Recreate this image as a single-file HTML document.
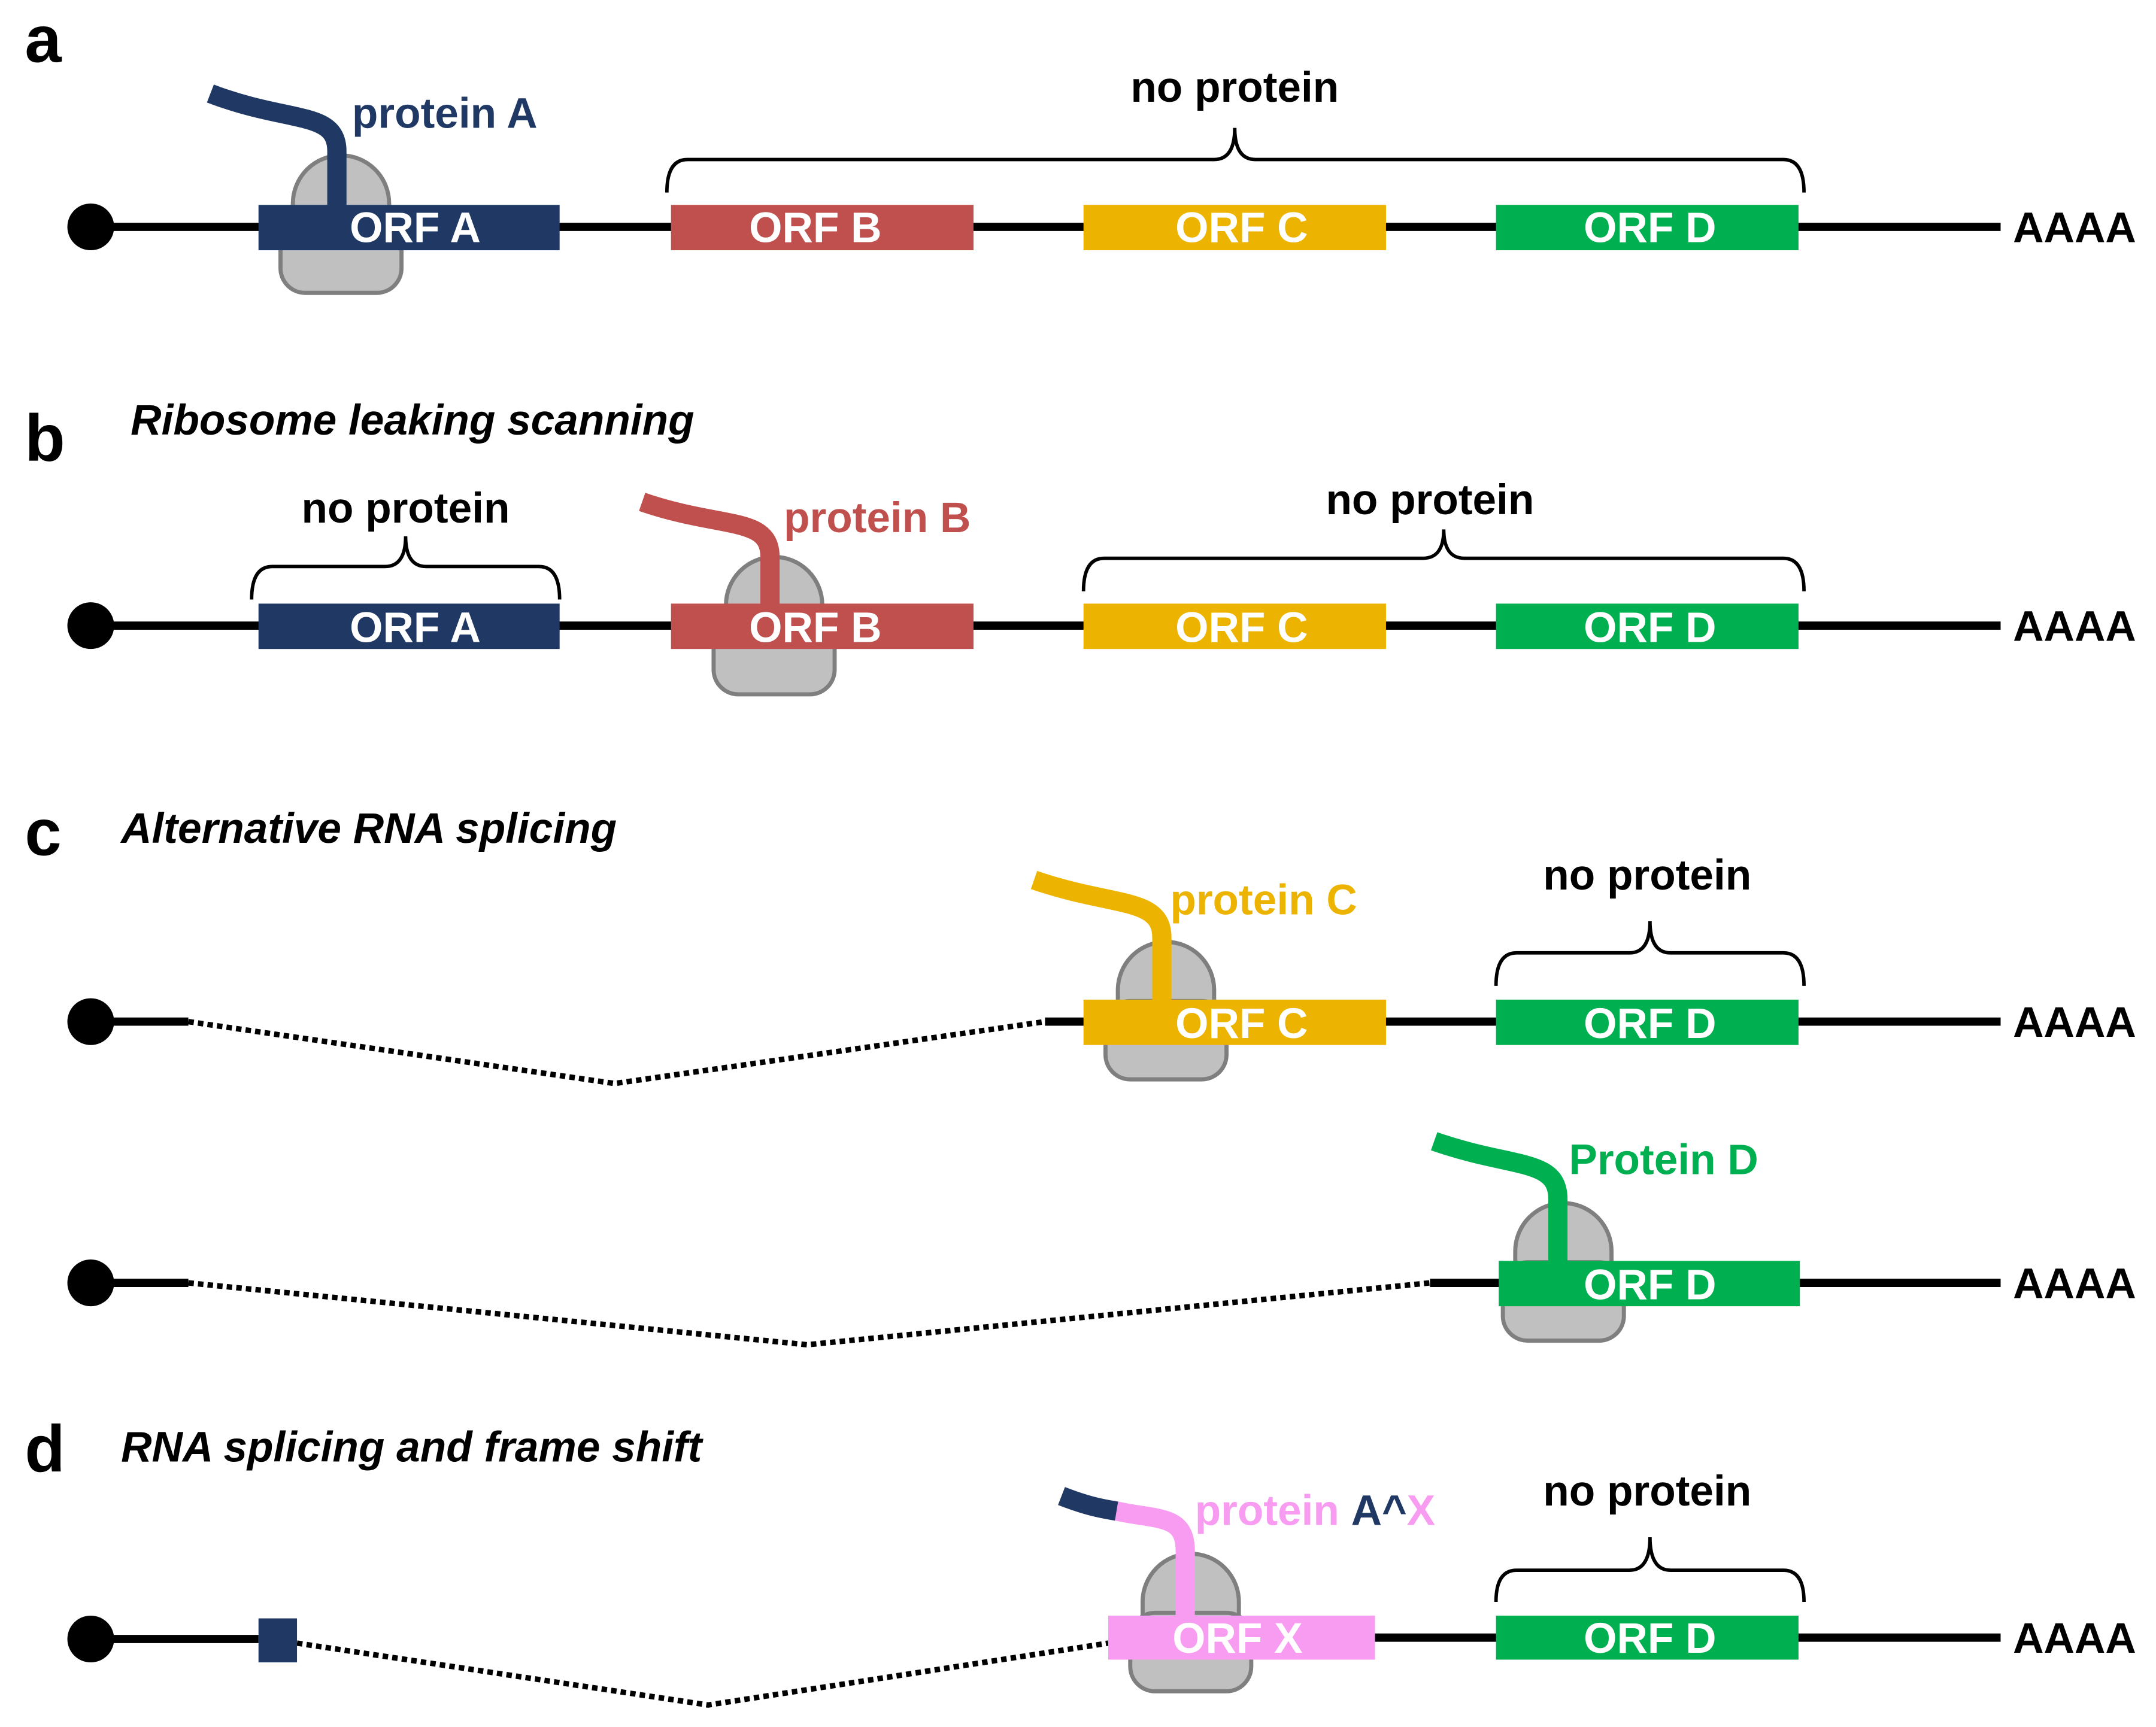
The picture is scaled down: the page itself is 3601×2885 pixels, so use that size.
<!DOCTYPE html>
<html><head><meta charset="utf-8"><style>
html,body{margin:0;padding:0;background:#fff;}
svg{display:block;}
text{font-family:"Liberation Sans",Arial,sans-serif;font-weight:bold;}
</style></head><body>
<svg width="3601" height="2885" viewBox="0 0 1568 1256" preserveAspectRatio="none" xmlns="http://www.w3.org/2000/svg">
<defs>
<g id="ribo">
<path d="M-35,30 L-35,17 A35,35 0 0 1 35,17 L35,30 Z" fill="#c0c0c0" stroke="#7f7f7f" stroke-width="3"/>
<rect x="-44" y="25" width="88" height="57" rx="18" fill="#c0c0c0" stroke="#7f7f7f" stroke-width="3"/>
</g>
</defs>
<g font-size="31" fill="#fff">
<text x="18" y="45" font-size="48" fill="#000">a</text>
<text x="18" y="335" font-size="48" fill="#000">b</text>
<text x="18" y="622" font-size="48" fill="#000">c</text>
<text x="18" y="1070" font-size="48" fill="#000">d</text>
<text x="95" y="316" font-style="italic" fill="#000">Ribosome leaking scanning</text>
<text x="88" y="613" font-style="italic" fill="#000">Alternative RNA splicing</text>
<text x="88" y="1063" font-style="italic" fill="#000">RNA splicing and frame shift</text>

<!-- ROW A -->
<line x1="66" y1="165" x2="1455" y2="165" stroke="#000" stroke-width="6"/>
<circle cx="66" cy="165" r="17" fill="#000"/>
<use href="#ribo" x="248" y="131"/>
<path d="M153,68 C210,90 245,80 245,110 L245,152" fill="none" stroke="#1f3864" stroke-width="14"/>
<rect x="188" y="149" width="219" height="33" fill="#1f3864"/><text x="302" y="176" text-anchor="middle">ORF A</text>
<rect x="488" y="149" width="220" height="33" fill="#c0504d"/><text x="593" y="176" text-anchor="middle">ORF B</text>
<rect x="788" y="149" width="220" height="33" fill="#ecb400"/><text x="903" y="176" text-anchor="middle">ORF C</text>
<rect x="1088" y="149" width="220" height="33" fill="#00b050"/><text x="1200" y="176" text-anchor="middle">ORF D</text>
<text x="1464" y="176" fill="#000">AAAA</text>
<text x="256" y="93" fill="#1f3864">protein A</text>
<path d="M485,140 Q485,116 500,116 L883,116 Q898,116 898,93 Q898,116 913,116 L1297,116 Q1312,116 1312,140" fill="none" stroke="#000" stroke-width="2.5"/>
<text x="898" y="74" text-anchor="middle" fill="#000">no protein</text>

<!-- ROW B -->
<line x1="66" y1="455" x2="1455" y2="455" stroke="#000" stroke-width="6"/>
<circle cx="66" cy="455" r="17" fill="#000"/>
<use href="#ribo" x="563" y="423"/>
<path d="M467,365 C525,385 560,375 560,405 L560,442" fill="none" stroke="#c0504d" stroke-width="14"/>
<rect x="188" y="439" width="219" height="33" fill="#1f3864"/><text x="302" y="467" text-anchor="middle">ORF A</text>
<rect x="488" y="439" width="220" height="33" fill="#c0504d"/><text x="593" y="467" text-anchor="middle">ORF B</text>
<rect x="788" y="439" width="220" height="33" fill="#ecb400"/><text x="903" y="467" text-anchor="middle">ORF C</text>
<rect x="1088" y="439" width="220" height="33" fill="#00b050"/><text x="1200" y="467" text-anchor="middle">ORF D</text>
<text x="1464" y="466" fill="#000">AAAA</text>
<text x="570" y="387" fill="#c0504d">protein B</text>
<path d="M183,436 Q183,412 198,412 L280,412 Q295,412 295,390 Q295,412 310,412 L392,412 Q407,412 407,436" fill="none" stroke="#000" stroke-width="2.5"/>
<text x="295" y="380" text-anchor="middle" fill="#000">no protein</text>
<path d="M788,430 Q788,406 803,406 L1035,406 Q1050,406 1050,385 Q1050,406 1065,406 L1297,406 Q1312,406 1312,430" fill="none" stroke="#000" stroke-width="2.5"/>
<text x="1040" y="374" text-anchor="middle" fill="#000">no protein</text>

<!-- ROW C1 -->
<line x1="66" y1="743" x2="137" y2="743" stroke="#000" stroke-width="6"/>
<line x1="760" y1="743" x2="1455" y2="743" stroke="#000" stroke-width="6"/>
<polyline points="137,743 447,788 760,743" fill="none" stroke="#000" stroke-width="4" stroke-dasharray="4,3"/>
<circle cx="66" cy="743" r="17" fill="#000"/>
<use href="#ribo" x="848" y="703"/>
<path d="M752,640 C810,660 845,652 845,682 L845,730" fill="none" stroke="#ecb400" stroke-width="14"/>
<rect x="788" y="727" width="220" height="33" fill="#ecb400"/><text x="903" y="755" text-anchor="middle">ORF C</text>
<rect x="1088" y="727" width="220" height="33" fill="#00b050"/><text x="1200" y="755" text-anchor="middle">ORF D</text>
<text x="1464" y="754" fill="#000">AAAA</text>
<text x="851" y="665" fill="#ecb400">protein C</text>
<path d="M1088,717 Q1088,693 1103,693 L1185,693 Q1200,693 1200,670 Q1200,693 1215,693 L1297,693 Q1312,693 1312,717" fill="none" stroke="#000" stroke-width="2.5"/>
<text x="1198" y="647" text-anchor="middle" fill="#000">no protein</text>

<!-- ROW C2 -->
<line x1="66" y1="933" x2="137" y2="933" stroke="#000" stroke-width="6"/>
<line x1="1040" y1="933" x2="1455" y2="933" stroke="#000" stroke-width="6"/>
<polyline points="137,933 587,978 1040,933" fill="none" stroke="#000" stroke-width="4" stroke-dasharray="4,3"/>
<circle cx="66" cy="933" r="17" fill="#000"/>
<use href="#ribo" x="1137" y="893"/>
<path d="M1043,830 C1100,850 1133,842 1133,872 L1133,920" fill="none" stroke="#00b050" stroke-width="14"/>
<rect x="1090" y="917" width="219" height="33" fill="#00b050"/><text x="1200" y="945" text-anchor="middle">ORF D</text>
<text x="1464" y="944" fill="#000">AAAA</text>
<text x="1141" y="854" fill="#00b050">Protein D</text>

<!-- ROW D -->
<line x1="66" y1="1192" x2="188" y2="1192" stroke="#000" stroke-width="6"/>
<line x1="1000" y1="1191" x2="1455" y2="1191" stroke="#000" stroke-width="6"/>
<polyline points="216,1195 515,1240 806,1195" fill="none" stroke="#000" stroke-width="4" stroke-dasharray="4,3"/>
<circle cx="66" cy="1192" r="17" fill="#000"/>
<rect x="188" y="1177" width="28" height="32" fill="#1f3864"/>
<use href="#ribo" x="866" y="1148"/>
<path d="M808,1098 C840,1106 862,1100 862,1128 L862,1178" fill="none" stroke="#f79cf0" stroke-width="14"/>
<path d="M772,1088 C790,1095 800,1097 812,1099" fill="none" stroke="#1f3864" stroke-width="14"/>
<rect x="806" y="1175" width="194" height="32" fill="#f79cf0"/><text x="900" y="1202" text-anchor="middle">ORF X</text>
<rect x="1088" y="1175" width="220" height="32" fill="#00b050"/><text x="1200" y="1202" text-anchor="middle">ORF D</text>
<text x="1464" y="1202" fill="#000">AAAA</text>
<text x="869" y="1109" fill="#f79cf0">protein <tspan fill="#1f3864">A^</tspan>X</text>
<path d="M1088,1165 Q1088,1142 1103,1142 L1185,1142 Q1200,1142 1200,1118 Q1200,1142 1215,1142 L1297,1142 Q1312,1142 1312,1165" fill="none" stroke="#000" stroke-width="2.5"/>
<text x="1198" y="1095" text-anchor="middle" fill="#000">no protein</text>
</g>
</svg>
</body></html>
